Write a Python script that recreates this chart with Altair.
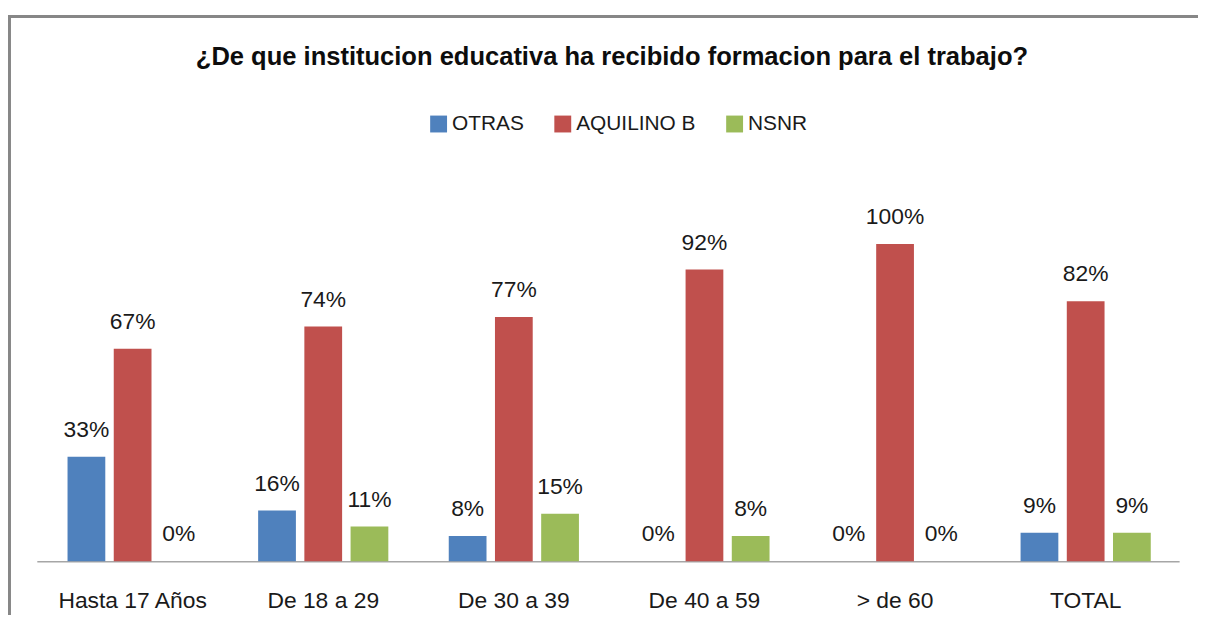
import altair as alt
import pandas as pd

categories = ["Hasta 17 Años", "De 18 a 29", "De 30 a 39", "De 40 a 59", "> de 60", "TOTAL"]
series = ["OTRAS", "AQUILINO B", "NSNR"]
otras = [33, 16, 8, 0, 0, 9]
aquilino = [67, 74, 77, 92, 100, 82]
nsnr = [0, 11, 15, 8, 0, 9]
colors = ["#4F81BD", "#C0504D", "#9BBB59"]
title_text = "¿De que institucion educativa ha recibido formacion para el trabajo?"

rows = []
for s, vals in zip(series, [otras, aquilino, nsnr]):
    for c, v in zip(categories, vals):
        rows.append({"cat": c, "serie": s, "v": v, "label": f"{v}%"})
df = pd.DataFrame(rows)

W, H = 1150, 549
FONT = "Liberation Sans"
TXT = "#1a1a1a"

x = alt.X(
    "cat:N", sort=categories,
    scale=alt.Scale(paddingInner=0.317, paddingOuter=0.155, align=0.52),
    axis=alt.Axis(title=None, labelAngle=0, ticks=False, grid=False,
                  domainColor="#a6a6a6", domainWidth=1.5,
                  labelFontSize=23, labelFont=FONT, labelColor=TXT, labelPadding=28),
)
xo = alt.XOffset("serie:N", sort=series, scale=alt.Scale(paddingInner=0.183, paddingOuter=0))
y = alt.Y("v:Q", scale=alt.Scale(domain=[0, 171.9]), axis=None)
color = alt.Color(
    "serie:N", sort=series,
    scale=alt.Scale(domain=series, range=colors),
    legend=alt.Legend(title=None, orient="none", direction="horizontal",
                      legendX=394, legendY=98, symbolType="square", symbolSize=289,
                      symbolStrokeWidth=0, symbolOpacity=1,
                      labelFontSize=21, labelFont=FONT, labelColor=TXT,
                      labelOffset=3, columnPadding=28, padding=0),
)

bars = alt.Chart(df).mark_bar().encode(x=x, xOffset=xo, y=y, color=color)
labels = alt.Chart(df).mark_text(dy=-20, baseline="alphabetic", fontSize=23, font=FONT, color=TXT).encode(
    x=x, xOffset=xo, y=y, text="label:N"
)

frame_data = pd.DataFrame({"k": [0]})
top_rule = alt.Chart(frame_data).mark_rule(color="#878787", strokeWidth=3).encode(
    x=alt.value(-29), x2=alt.value(W + 19), y=alt.value(0.5)
)
left_rule = alt.Chart(frame_data).mark_rule(color="#878787", strokeWidth=3).encode(
    x=alt.value(-27.5), y=alt.value(0), y2=alt.value(H + 54)
)

chart = alt.layer(bars, labels, top_rule, left_rule).properties(
    width=W, height=H,
    padding={"left": 29, "top": 6, "right": 19, "bottom": 54},
    autosize=alt.AutoSizeParams(type="none"),
    title=alt.TitleParams(title_text, font=FONT, fontSize=25.7, fontWeight="bold", color="#0d0d0d",
                          anchor="middle", frame="group", orient="top", offset=-77,
                          baseline="alphabetic", dx=4),
).configure_view(stroke=None)

chart.save("out.html", embed_options={"renderer": "svg", "actions": False})
